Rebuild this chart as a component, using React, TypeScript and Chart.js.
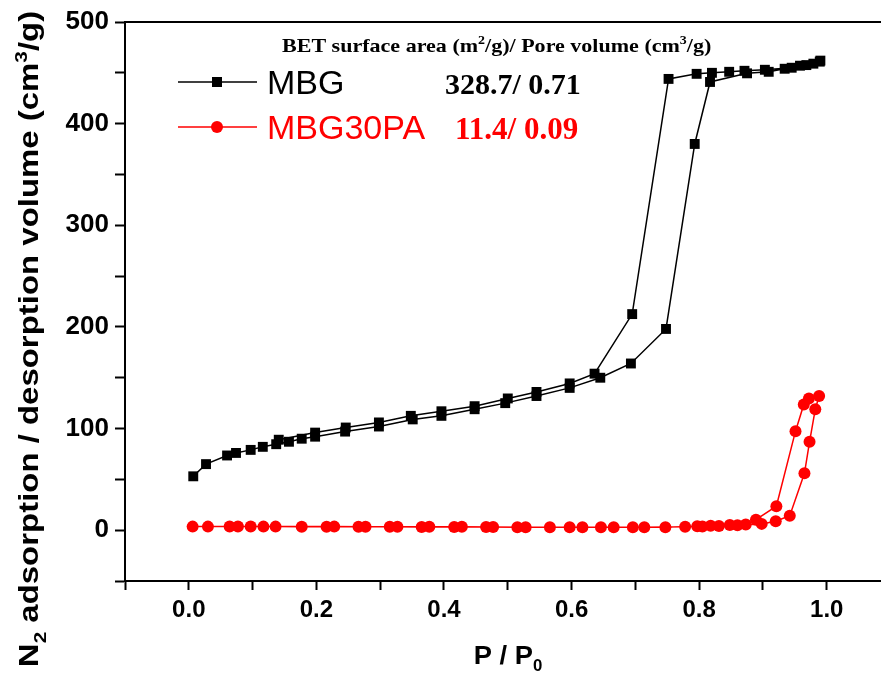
import React, { useEffect, useRef } from 'react';
import { Chart, registerables } from 'chart.js';

Chart.register(...registerables);

// ---------- data ----------
const seriesNames = ['MBG', 'MBG30PA'];
const betValues = ['328.7/ 0.71', '11.4/ 0.09'];
const seriesColors = ['#000000', '#ff0000'];

const mbgAdsX = [0.007, 0.027, 0.060, 0.074, 0.097, 0.116, 0.137, 0.157, 0.177, 0.198, 0.245, 0.298, 0.351, 0.396, 0.448, 0.496, 0.545, 0.597, 0.645, 0.693, 0.748, 0.793, 0.817, 0.875, 0.909, 0.934, 0.958, 0.979, 0.990];
const mbgAdsY = [53, 65, 73.5, 76, 79, 82, 84.6, 87, 90, 92, 97, 102, 109, 112.5, 119, 125, 132, 140, 150, 164, 198, 380, 441, 449.5, 451, 454, 457, 459, 462];
const mbgDesX = [0.989, 0.968, 0.945, 0.903, 0.871, 0.847, 0.820, 0.796, 0.752, 0.695, 0.636, 0.597, 0.545, 0.500, 0.448, 0.396, 0.348, 0.298, 0.246, 0.198, 0.141];
const mbgDesY = [461, 457.6, 455, 453, 452, 451, 450, 449, 444, 212.6, 154, 144.4, 136, 129.6, 122, 117, 112.5, 106, 101, 96, 89];

const paAdsX = [0.006, 0.030, 0.064, 0.097, 0.117, 0.136, 0.177, 0.216, 0.266, 0.315, 0.365, 0.416, 0.466, 0.515, 0.566, 0.617, 0.666, 0.714, 0.778, 0.805, 0.831, 0.860, 0.898, 0.920, 0.942, 0.965, 0.973, 0.982, 0.988];
const paAdsY = [3.5, 3.5, 3.6, 3.6, 3.5, 3.5, 3.4, 3.4, 3.3, 3.3, 3.2, 3.2, 3.1, 3.0, 2.8, 2.8, 2.8, 2.9, 3.3, 3.6, 4.2, 4.8, 6.2, 8.8, 14.3, 56, 87, 119, 132];
const paDesX = [0.972, 0.964, 0.951, 0.921, 0.889, 0.873, 0.848, 0.818, 0.797, 0.747, 0.696, 0.646, 0.597, 0.528, 0.477, 0.428, 0.377, 0.327, 0.277, 0.228, 0.077];
const paDesY = [129.6, 123.7, 97.4, 23.6, 10.3, 5.5, 5.0, 4.3, 3.8, 3.0, 2.9, 2.9, 2.9, 3.0, 3.2, 3.3, 3.3, 3.4, 3.4, 3.5, 3.6];

const xMin = -0.1;
const xMax = 1.085;
const xStep = 0.1;
const xLabelValues = [0.0, 0.2, 0.4, 0.6, 0.8, 1.0];
const yMin = -50;
const yMax = 500;
const yStep = 50;
const yLabelValues = [0, 100, 200, 300, 400, 500];

const headerSegs = [
  { t: 'BET surface area (m' }, { t: '2', sup: true }, { t: '/g)/ Pore volume (cm' }, { t: '3', sup: true }, { t: '/g)' },
];
const yTitleSegs = [
  { t: 'N' }, { t: '2', sub: true }, { t: ' adsorption / desorption volume (cm' }, { t: '3', sup: true }, { t: '/g)' },
];
const xTitleSegs = [{ t: 'P / P' }, { t: '0', sub: true }];

type Seg = { t: string; sup?: boolean; sub?: boolean };

function toPoints(xs: number[], ys: number[]) {
  return xs.map((x, i) => ({ x, y: ys[i] }));
}

function drawRich(ctx: CanvasRenderingContext2D, segs: Seg[], x: number, y: number, size: number, family: string, weight: string, align: 'left' | 'center', scaleX = 1) {
  const fontFor = (s: Seg) => `${weight} ${s.sup || s.sub ? Math.round(size * 0.62) : size}px ${family}`;
  let total = 0;
  const widths = segs.map((s) => {
    ctx.font = fontFor(s);
    const w = ctx.measureText(s.t).width;
    total += w;
    return w;
  });
  ctx.save();
  ctx.translate(x, y);
  ctx.scale(scaleX, 1);
  let cx = align === 'center' ? -total / 2 : 0;
  ctx.textAlign = 'left';
  ctx.textBaseline = 'alphabetic';
  segs.forEach((s, i) => {
    ctx.font = fontFor(s);
    const dy = s.sup ? -size * 0.42 : s.sub ? size * 0.28 : 0;
    ctx.fillText(s.t, cx, dy);
    cx += widths[i];
  });
  ctx.restore();
}

const near = (v: number, list: number[]) => list.some((l) => Math.abs(l - v) < 1e-6);

const overlayPlugin = {
  id: 'overlay',
  afterDraw(chart: any) {
    const ctx: CanvasRenderingContext2D = chart.ctx;
    const { left, right, top } = chart.chartArea;
    ctx.save();
    // top frame line
    ctx.strokeStyle = '#000';
    ctx.lineWidth = 2;
    ctx.beginPath();
    ctx.moveTo(left - 1, top);
    ctx.lineTo(right, top);
    ctx.stroke();

    // header
    ctx.fillStyle = '#000';
    drawRich(ctx, headerSegs, 282, 52, 19, '"Liberation Serif", "Times New Roman", serif', 'bold', 'left', 1.16);

    // legend rows
    const rowsY = [82, 127];
    seriesNames.forEach((name, i) => {
      const cy = rowsY[i];
      const col = seriesColors[i];
      ctx.strokeStyle = col;
      ctx.lineWidth = 1.5;
      ctx.beginPath();
      ctx.moveTo(178, cy);
      ctx.lineTo(257, cy);
      ctx.stroke();
      ctx.fillStyle = col;
      if (i === 0) {
        ctx.fillRect(217 - 5, cy - 5, 10, 10);
      } else {
        ctx.beginPath();
        ctx.arc(217, cy, 6, 0, Math.PI * 2);
        ctx.fill();
      }
      ctx.textAlign = 'left';
      ctx.textBaseline = 'alphabetic';
      ctx.font = '34px "Liberation Sans", Arial, sans-serif';
      ctx.fillText(name, 267, cy + 12);
      ctx.font = `bold ${i === 0 ? 30 : 31}px "Liberation Serif", "Times New Roman", serif`;
      ctx.fillText(betValues[i], i === 0 ? 445 : 455, cy + 12);
    });

    // y title (rotated)
    ctx.fillStyle = '#000';
    ctx.save();
    ctx.translate(38, 339);
    ctx.rotate(-Math.PI / 2);
    drawRich(ctx, yTitleSegs, 0, 0, 27, '"Liberation Sans", Arial, sans-serif', 'bold', 'center', 1.22);
    ctx.restore();

    // x title
    drawRich(ctx, xTitleSegs, 508, 664, 26, '"Liberation Sans", Arial, sans-serif', 'bold', 'center', 1.05);
    ctx.restore();
  },
};

export default function App() {
  const ref = useRef<HTMLCanvasElement | null>(null);
  useEffect(() => {
    document.body.style.margin = '0';
    document.body.style.overflow = 'hidden';
    const canvas = ref.current;
    if (!canvas) return;
    const chart = new Chart(canvas, {
      type: 'line',
      data: {
        datasets: [
          {
            label: seriesNames[0],
            data: [...toPoints(mbgAdsX, mbgAdsY), ...toPoints(mbgDesX, mbgDesY)],
            borderColor: seriesColors[0],
            backgroundColor: seriesColors[0],
            borderWidth: 1.5,
            pointStyle: 'rect',
            pointRadius: 7,
            pointBorderWidth: 0,
            tension: 0,
          },
          {
            label: seriesNames[1],
            data: [...toPoints(paAdsX, paAdsY), ...toPoints(paDesX, paDesY)],
            borderColor: seriesColors[1],
            backgroundColor: seriesColors[1],
            borderWidth: 1.5,
            pointStyle: 'circle',
            pointRadius: 6,
            pointBorderWidth: 0,
            tension: 0,
          },
        ],
      },
      options: {
        responsive: false,
        animation: false,
        layout: { autoPadding: false, padding: { top: 22, right: 0, left: 0, bottom: 0 } },
        plugins: { legend: { display: false }, tooltip: { enabled: false } },
        scales: {
          x: {
            type: 'linear',
            min: xMin,
            max: xMax,
            afterFit: (s: any) => { s.height = 98; s.paddingLeft = 0; s.paddingRight = 0; },
            ticks: {
              stepSize: xStep,
              includeBounds: false,
              autoSkip: false,
              maxRotation: 0,
              color: '#000',
              padding: 6,
              font: { family: '"Liberation Sans Narrow", "Liberation Sans", Arial, sans-serif', size: 24, weight: 'bold' },
              callback: (v: any) => (near(Number(v), xLabelValues) ? Number(v).toFixed(1) : ''),
            },
            grid: {
              drawOnChartArea: false,
              drawTicks: true,
              tickLength: 9,
              tickWidth: 2,
              tickColor: '#000',
            },
            border: { display: true, color: '#000', width: 2 },
          },
          y: {
            type: 'linear',
            min: yMin,
            max: yMax,
            afterFit: (s: any) => { s.width = 125; s.paddingTop = 0; s.paddingBottom = 0; },
            ticks: {
              stepSize: yStep,
              autoSkip: false,
              color: '#000',
              padding: 6,
              font: { family: '"Liberation Sans", Arial, sans-serif', size: 26, weight: 'bold' },
              callback: (v: any) => (near(Number(v), yLabelValues) ? String(v) : ''),
            },
            grid: {
              drawOnChartArea: false,
              drawTicks: true,
              tickLength: 10,
              tickWidth: 2,
              tickColor: '#000',
            },
            border: { display: true, color: '#000', width: 2 },
          },
        },
      },
      plugins: [overlayPlugin],
    });
    return () => chart.destroy();
  }, []);
  return (
    <div style={{ width: 881, height: 679 }}>
      <canvas ref={ref} width={881} height={679} style={{ display: 'block' }} />
    </div>
  );
}
